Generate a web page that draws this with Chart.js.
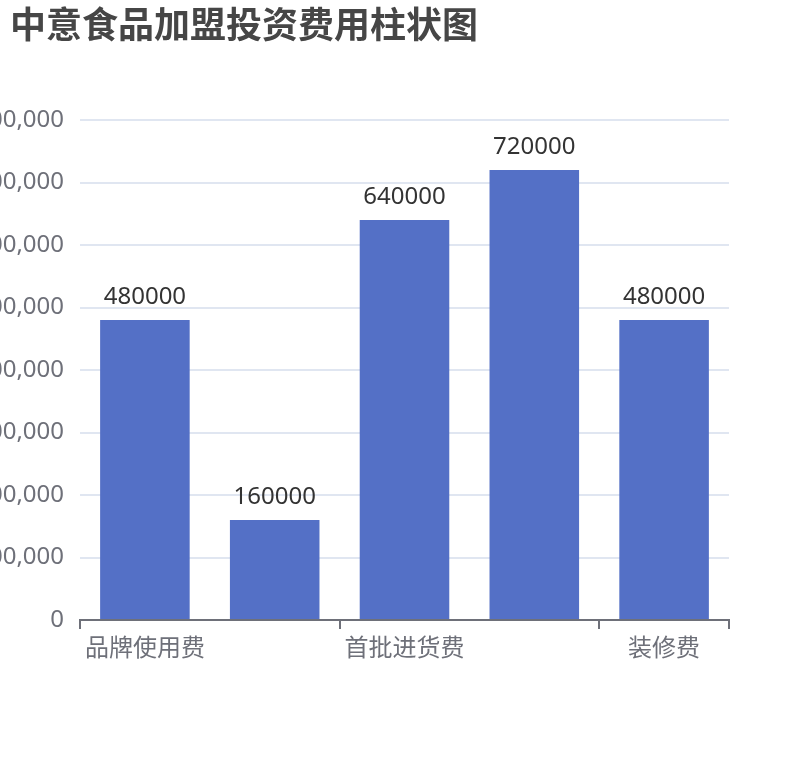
<!DOCTYPE html>
<html>
<head>
<meta charset="utf-8">
<script src="https://cdn.jsdelivr.net/npm/chart.js@4"></script>
<style>
html,body{margin:0;padding:0;background:#fff;}
#wrap{position:relative;width:810px;height:760px;}
</style>
</head>
<body>
<div id="wrap"><canvas id="c" width="810" height="760"></canvas></div>
<script>
const titleText = '中意食品加盟投资费用柱状图';
const categories = ['品牌使用费', '加盟费', '首批进货费', '设备费', '装修费'];
const values = [480000, 160000, 640000, 720000, 480000];
const yTickMax = 800000;
const yTickStep = 100000;

const FONT = '"Noto Sans", "Noto Sans CJK SC", sans-serif';

const titlePlugin = {
  id: 'titleDraw',
  afterDraw(chart) {
    const ctx = chart.ctx;
    ctx.save();
    ctx.font = 'bold 36px ' + FONT;
    ctx.fillStyle = '#464646';
    ctx.textAlign = 'left';
    ctx.textBaseline = 'top';
    ctx.fillText(titleText, 10, 10);
    ctx.restore();
  }
};

const labelPlugin = {
  id: 'barLabels',
  afterDatasetsDraw(chart) {
    const ctx = chart.ctx;
    const meta = chart.getDatasetMeta(0);
    ctx.save();
    ctx.font = '24px ' + FONT;
    ctx.fillStyle = '#333333';
    ctx.textAlign = 'center';
    ctx.textBaseline = 'alphabetic';
    meta.data.forEach((bar, i) => {
      ctx.fillText(String(chart.data.datasets[0].data[i]), bar.x, bar.y - 16);
    });
    ctx.restore();
  }
};

new Chart(document.getElementById('c'), {
  type: 'bar',
  data: {
    labels: categories,
    datasets: [{
      data: values,
      backgroundColor: '#5470c6',
      barPercentage: 0.69,
      categoryPercentage: 1.0
    }]
  },
  options: {
    responsive: false,
    animation: false,
    devicePixelRatio: 1,
    layout: { padding: { top: 120, right: 81, bottom: 80, left: 0 } },
    plugins: { legend: { display: false }, tooltip: { enabled: false }, title: { display: false } },
    scales: {
      x: {
        offset: true,
        afterFit(scale) { scale.height = 60; },
        grid: {
          offset: true,
          drawOnChartArea: false,
          drawTicks: true,
          tickLength: 9,
          lineWidth: 2,
          color: (ctx) => (ctx.index === undefined || ctx.index % 2 === 0) ? '#6e7079' : 'rgba(0,0,0,0)'
        },
        border: { display: true, color: '#6e7079', width: 2 },
        ticks: {
          autoSkip: false,
          maxRotation: 0,
          padding: 6,
          color: '#6e7079',
          font: { size: 24, family: FONT },
          callback: function(v, i) { return i % 2 === 0 ? this.getLabelForValue(v) : ''; }
        }
      },
      y: {
        min: 0,
        max: yTickMax,
        afterFit(scale) { scale.width = 80; },
        grid: { color: '#e0e6f1', lineWidth: 2, drawTicks: false },
        border: { display: false },
        ticks: {
          stepSize: yTickStep,
          padding: 16,
          color: '#6e7079',
          font: { size: 24, family: FONT },
          callback: (v) => v.toLocaleString('en-US')
        }
      }
    }
  },
  plugins: [titlePlugin, labelPlugin]
});
</script>
</body>
</html>
